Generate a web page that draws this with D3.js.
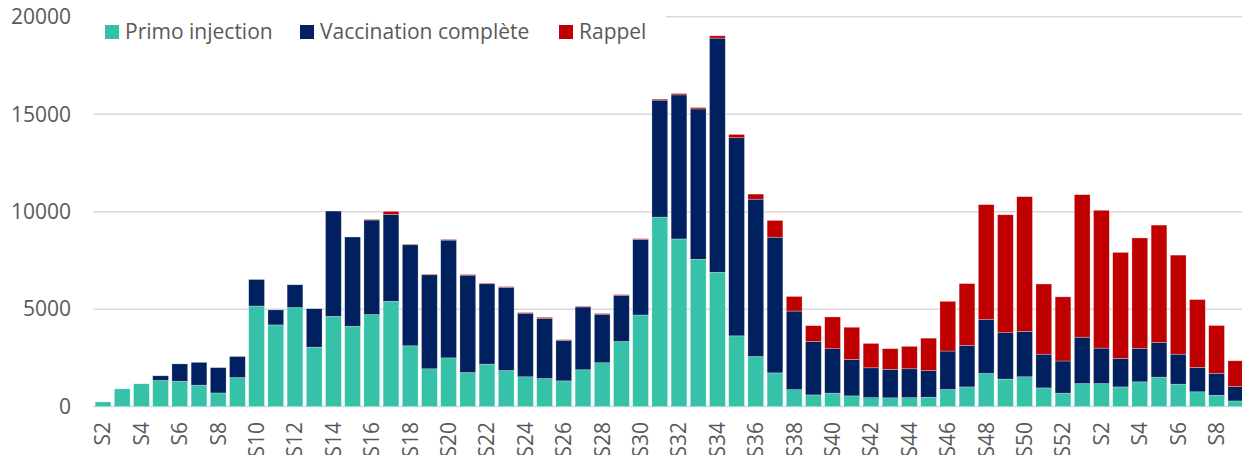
<!DOCTYPE html>
<html>
<head>
<meta charset="utf-8">
<script src="https://cdn.jsdelivr.net/npm/d3@7"></script>
<style>
  html, body { margin: 0; padding: 0; background: #fff; overflow: hidden; }
  svg { display: block; font-family: "Open Sans", "Noto Sans", sans-serif; }
</style>
</head>
<body>
<svg id="chart" width="1242" height="455"></svg>
<script>
// ── Data (weekly doses) ───────────────────────────────────────────────────────

const weeks = [
  'S2','S3','S4','S5','S6','S7','S8','S9','S10','S11','S12','S13','S14','S15','S16','S17',
  'S18','S19','S20','S21','S22','S23','S24','S25','S26','S27','S28','S29','S30','S31','S32','S33',
  'S34','S35','S36','S37','S38','S39','S40','S41','S42','S43','S44','S45','S46','S47','S48','S49',
  'S50','S51','S52','S1','S2','S3','S4','S5','S6','S7','S8','S9'
];

const primo = [
  240, 910, 1170, 1340, 1300, 1100, 700, 1490, 5160, 4190, 5080, 3050, 4630, 4120, 4720, 5400,
  3120, 1940, 2500, 1750, 2180, 1850, 1530, 1440, 1320, 1890, 2250, 3340, 4700, 9720, 8600, 7560,
  6890, 3630, 2570, 1730, 870, 600, 690, 550, 460, 450, 460, 480, 880, 1010, 1700, 1410,
  1530, 960, 690, 1180, 1180, 1010, 1270, 1510, 1150, 760, 580, 290
];

const complete = [
  0, 0, 0, 240, 890, 1170, 1300, 1080, 1360, 770, 1170, 1970, 5400, 4580, 4850, 4460,
  5180, 4820, 6040, 4990, 4120, 4270, 3260, 3090, 2080, 3220, 2490, 2370, 3880, 6000, 7390, 7710,
  12010, 10160, 8070, 6960, 4030, 2740, 2280, 1870, 1530, 1460, 1480, 1370, 1970, 2130, 2780, 2380,
  2330, 1730, 1650, 2380, 1820, 1460, 1720, 1780, 1540, 1250, 1130, 740
];

const rappel = [
  0, 0, 0, 0, 0, 0, 0, 0, 0, 0, 0, 0, 0, 0, 35, 155,
  35, 35, 35, 35, 35, 35, 35, 50, 35, 35, 35, 35, 35, 50, 70, 70,
  120, 170, 260, 860, 750, 810, 1630, 1650, 1250, 1060, 1150, 1660, 2550, 3170, 5880, 6050,
  6910, 3600, 3290, 7310, 7070, 5440, 5660, 6020, 5080, 3480, 2450, 1320
];

const seriesNames  = ['Primo injection', 'Vaccination complète', 'Rappel'];
const seriesColors = ['#36C1A9', '#002060', '#C00000'];
const yTicks = [0, 5000, 10000, 15000, 20000];

// ── Layout ────────────────────────────────────────────────────────────────────

const plot = { left: 93.4, right: 1245.4, top: 16.7, bottom: 406.6 };
const TEXT = '#595959';
const GRID = '#d9d9d9';

const svg = d3.select('#chart');

const rows = weeks.map((w, i) => ({
  key: i, label: w,
  primo: primo[i], complete: complete[i], rappel: rappel[i]
}));

const x = d3.scaleBand()
  .domain(rows.map(d => d.key))
  .range([plot.left, plot.right])
  .paddingInner(0.18)
  .paddingOuter(0.09);

const y = d3.scaleLinear()
  .domain([0, 20000])
  .range([plot.bottom, plot.top]);

// ── Gridlines + y labels ──────────────────────────────────────────────────────

svg.append('g').attr('class', 'grid')
  .selectAll('line')
  .data(yTicks)
  .join('line')
    .attr('x1', plot.left).attr('x2', plot.right)
    .attr('y1', d => y(d)).attr('y2', d => y(d))
    .attr('stroke', GRID)
    .attr('stroke-width', 1.5);

svg.append('g').attr('class', 'y-labels')
  .selectAll('text')
  .data(yTicks)
  .join('text')
    .attr('x', 71)
    .attr('y', d => y(d))
    .attr('dy', '0.35em')
    .attr('text-anchor', 'end')
    .attr('fill', TEXT)
    .attr('font-size', 21)
    .text(d => d);

// ── Stacked bars ──────────────────────────────────────────────────────────────

const stack = d3.stack().keys(['primo', 'complete', 'rappel']);
const layers = stack(rows);

svg.append('g').attr('class', 'bars')
  .selectAll('g')
  .data(layers)
  .join('g')
    .attr('fill', (d, i) => seriesColors[i])
  .selectAll('rect')
  .data(d => d.filter(s => s[1] - s[0] > 0))
  .join('rect')
    .attr('x', d => x(d.data.key))
    .attr('width', x.bandwidth())
    .attr('y', d => y(d[1]))
    .attr('height', d => y(d[0]) - y(d[1]))
    .attr('stroke', '#ffffff')
    .attr('stroke-opacity', 0.45)
    .attr('stroke-width', 0.6);

// ── X labels (every other week, rotated) ──────────────────────────────────────

svg.append('g').attr('class', 'x-labels')
  .selectAll('text')
  .data(rows.filter((d, i) => i % 2 === 0))
  .join('text')
    .attr('transform', d => `translate(${x(d.key) + x.bandwidth() / 2},422) rotate(-90)`)
    .attr('dy', '0.35em')
    .attr('text-anchor', 'end')
    .attr('fill', TEXT)
    .attr('font-size', 21)
    .text(d => d.label);

// ── Legend ────────────────────────────────────────────────────────────────────

// white box behind the legend hides the top gridline, as in the original
svg.append('rect')
  .attr('x', 90).attr('y', 4)
  .attr('width', 576).attr('height', 46)
  .attr('fill', '#fff');

const legendX = [105, 300, 559];
const legend = svg.append('g').attr('class', 'legend')
  .selectAll('g')
  .data(seriesNames)
  .join('g')
    .attr('transform', (d, i) => `translate(${legendX[i]},25)`);

legend.append('rect')
  .attr('width', 14).attr('height', 14)
  .attr('fill', (d, i) => seriesColors[i]);

legend.append('text')
  .attr('x', 20).attr('y', 7)
  .attr('dy', '0.35em')
  .attr('fill', TEXT)
  .attr('font-size', 21)
  .text(d => d);
</script>
</body>
</html>
